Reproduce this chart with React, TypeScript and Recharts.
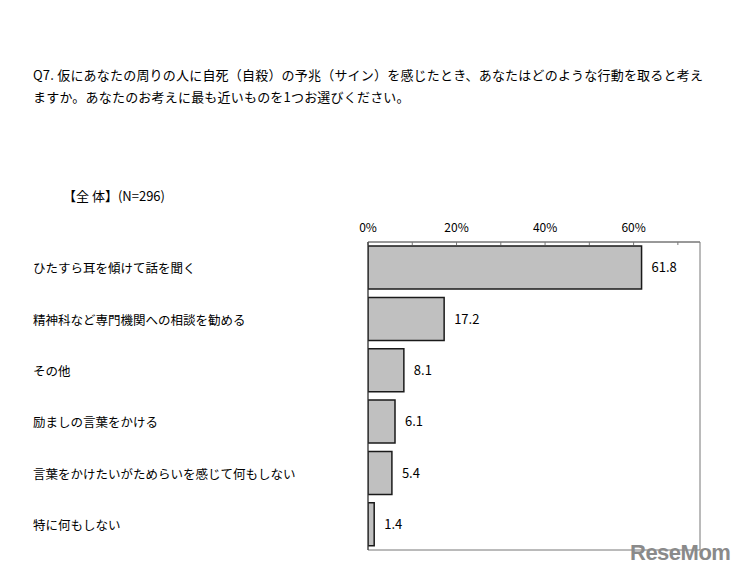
import React from "react";
import {
  BarChart,
  Bar,
  XAxis,
  YAxis,
  LabelList,
  ReferenceArea,
} from "recharts";

const categories = [
  "ひたすら耳を傾けて話を聞く",
  "精神科など専門機関への相談を勧める",
  "その他",
  "励ましの言葉をかける",
  "言葉をかけたいがためらいを感じて何もしない",
  "特に何もしない",
];
const values = [61.8, 17.2, 8.1, 6.1, 5.4, 1.4];
const xTicks = [0, 10, 20, 30, 40, 50, 60, 70];

const data = categories.map((name, i) => ({ name, value: values[i] }));

const FONT = '"Noto Sans CJK JP", "Noto Sans", sans-serif';

const CategoryTick = (props: any) => {
  const { y, payload } = props;
  return (
    <text
      x={33}
      y={y}
      textAnchor="start"
      dominantBaseline="central"
      fontSize={12.5}
      fill="#000"
      fontFamily={FONT}
    >
      {payload.value}
    </text>
  );
};

export default function App() {
  return (
    <div
      style={{
        position: "absolute",
        top: 0,
        left: 0,
        width: 749,
        height: 579,
        background: "#fff",
        fontFamily: FONT,
        color: "#000",
      }}
    >
      <div
        style={{
          position: "absolute",
          left: 33,
          top: 64,
          width: 700,
          fontSize: 13,
          lineHeight: "22px",
          letterSpacing: 0.2,
        }}
      >
        Q7. 仮にあなたの周りの人に自死（自殺）の予兆（サイン）を感じたとき、あなたはどのような行動を取ると考え
        <br />
        ますか。あなたのお考えに最も近いものを1つお選びください。
      </div>
      <div
        style={{
          position: "absolute",
          left: 63,
          top: 186,
          fontSize: 13,
          lineHeight: "20px",
        }}
      >
        【全 体】(N=296)
      </div>
      <div style={{ position: "absolute", left: 0, top: 0 }}>
        <BarChart
          width={749}
          height={579}
          data={data}
          layout="vertical"
          margin={{ top: 212, right: 49, bottom: 29, left: 33 }}
          barCategoryGap="8%"
        >
          <XAxis
            type="number"
            orientation="top"
            domain={[0, 75]}
            ticks={xTicks}
            allowDataOverflow
            height={30}
            tickSize={-3}
            tickMargin={13}
            tickFormatter={(v: number) => (v % 20 === 0 ? `${v}%` : "")}
            tick={{ fontSize: 12, fill: "#000", fontFamily: FONT }}
            stroke="#777"
          />
          <YAxis
            type="category"
            dataKey="name"
            width={335}
            tick={<CategoryTick />}
            tickLine={false}
            stroke="#333"
          />
          <ReferenceArea
            x1={0}
            x2={75}
            fill="none"
            stroke="#777"
            strokeWidth={1}
            ifOverflow="visible"
          />
          <Bar
            dataKey="value"
            fill="#c0c0c0"
            stroke="#1a1a1a"
            strokeWidth={1.5}
            isAnimationActive={false}
          >
            <LabelList
              dataKey="value"
              position="right"
              offset={10}
              fontSize={13}
              fill="#000"
              fontFamily={FONT}
            />
          </Bar>
        </BarChart>
      </div>
      <div
        style={{
          position: "absolute",
          left: 630,
          top: 540,
          fontSize: 22,
          fontWeight: 700,
          color: "#8a8a8a",
          fontFamily: '"Liberation Sans", sans-serif',
          letterSpacing: -0.5,
        }}
      >
        ReseMom
      </div>
    </div>
  );
}
